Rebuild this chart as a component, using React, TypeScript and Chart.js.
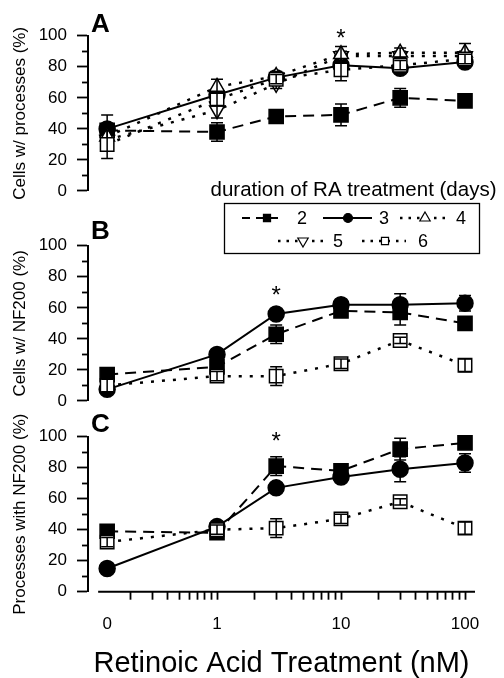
import React, { useEffect, useRef } from 'react';
import { Chart, registerables } from 'chart.js';

Chart.register(...registerables);

const W = 504;
const H = 678;
const FONT = '"Liberation Sans", Arial, Helvetica, sans-serif';

// ---------- data ----------
const DOSES = [0, 1, 3, 10, 30, 100]; // nM; dose 0 is drawn at ZERO_AT on the log axis
const ZERO_AT = 0.13;
const X_MIN = 0.0911;
const X_MAX = 120.4;
const X_LINE_START = 0.11;
const X_MAJOR = [ZERO_AT, 1, 10, 100];
const X_MAJOR_LABELS = ['0', '1', '10', '100'];
const X_MINOR = [0.2, 0.3, 0.4, 0.5, 0.6, 0.7, 0.8, 0.9, 2, 3, 4, 5, 6, 7, 8, 9, 20, 30, 40, 50, 60, 70, 80, 90];
const Y_MINOR = [10, 30, 50, 70, 90];

// Panel A: cells with processes (%)
const A_DAY2 = [39, 38, 48, 49, 60, 58];
const A_DAY2_ERR = [2, 6, 1, 7, 6, 1];
const A_DAY3 = [40, 62, 73, 81, 79, 83];
const A_DAY3_ERR = [9, 3, 3, 3, 3, 3];
const A_DAY4 = [35, 67, 74, 88, 89, 89];
const A_DAY4_ERR = [4, 5, 3, 5, 3, 6];
const A_DAY5 = [33, 52, 69, 87, 87, 87];
const A_DAY5_ERR = [4, 5, 3, 3, 3, 3];
const A_DAY6 = [30, 59, 72, 78, 81, 85];
const A_DAY6_ERR = [9, 4, 3, 7, 3, 3];

// Panel B: cells with NF200 (%)
const B_DAY2 = [17, 22, 43, 58, 57, 50];
const B_DAY2_ERR = [2, 2, 6, 2, 8, 4];
const B_DAY3 = [7.5, 30, 56, 62, 62, 63];
const B_DAY3_ERR = [1, 2, 2, 2, 7, 5];
const B_DAY6 = [10, 16, 16, 24, 39, 23];
const B_DAY6_ERR = [4, 3, 6, 3, 2, 4];

// Panel C: processes with NF200 (%)
const C_DAY2 = [39, 38, 81, 78, 92, 96];
const C_DAY2_ERR = [4, 3, 6, 3, 7, 2];
const C_DAY3 = [15, 42, 67, 74, 79, 83];
const C_DAY3_ERR = [1, 2, 3, 3, 8, 6];
const C_DAY6 = [32, 40, 41, 47, 58, 41];
const C_DAY6_ERR = [3, 3, 6, 3, 2, 4];

// significance markers (dose, value)
const A_STAR = [10, 101];
const B_STAR = [3, 71];
const C_STAR = [3, 100];

const LEGEND_TITLE = 'duration of RA treatment (days)';
const X_TITLE = 'Retinoic Acid Treatment (nM)';

// ---------- styles ----------
type St = { pointStyle: string; rotation: number; fill: string; dash: number[]; lw: number; radius: number; order: number; legendDash: number[]; legendR: number };
const STYLE: Record<string, St> = {
  '2': { pointStyle: 'rect', rotation: 0, fill: '#000', dash: [11, 7], lw: 2, radius: 10, order: 3, legendDash: [8, 6], legendR: 5 },
  '3': { pointStyle: 'circle', rotation: 0, fill: '#000', dash: [], lw: 2, radius: 8, order: 2, legendDash: [], legendR: 4.5 },
  '4': { pointStyle: 'triangle', rotation: 0, fill: '#fff', dash: [3, 8], lw: 2.5, radius: 8.5, order: 1, legendDash: [2.5, 6], legendR: 6 },
  '5': { pointStyle: 'triangle', rotation: 180, fill: '#fff', dash: [3, 8], lw: 2.5, radius: 8.5, order: 1, legendDash: [2.5, 6], legendR: 6 },
  '6': { pointStyle: 'rect', rotation: 0, fill: '#fff', dash: [3, 8], lw: 2.5, radius: 9.5, order: 0, legendDash: [2.5, 6], legendR: 5 },
};

const PLOT_LEFT = 88;
const PLOT_RIGHT = 475;

const LEGEND_LAYOUT = {
  titleX: 353.5, titleY: 190,
  box: [224, 203, 255, 50],
  items: [
    { day: '2', y: 218, x0: 242, x1: 280, mx: 267, lx: 302 },
    { day: '3', y: 218, x0: 323, x1: 372, mx: 348, lx: 384 },
    { day: '4', y: 218, x0: 400, x1: 448, mx: 425, lx: 461 },
    { day: '5', y: 241, x0: 278, x1: 326, mx: 303, lx: 338 },
    { day: '6', y: 241, x0: 362, x1: 406, mx: 385, lx: 423 },
  ],
};

type Series = { day: string; values: number[]; errors: number[] };
type Panel = {
  id: string; yTitle: string; top: number; bottom: number; showX: boolean; legend: boolean;
  letterDy: number; star: number[]; series: Series[];
};

const PANELS: Panel[] = [
  {
    id: 'A', yTitle: 'Cells w/ processes (%)', top: 35.7, bottom: 191, showX: false, legend: true, letterDy: -4, star: A_STAR,
    series: [
      { day: '2', values: A_DAY2, errors: A_DAY2_ERR },
      { day: '3', values: A_DAY3, errors: A_DAY3_ERR },
      { day: '4', values: A_DAY4, errors: A_DAY4_ERR },
      { day: '5', values: A_DAY5, errors: A_DAY5_ERR },
      { day: '6', values: A_DAY6, errors: A_DAY6_ERR },
    ],
  },
  {
    id: 'B', yTitle: 'Cells w/ NF200 (%)', top: 245.7, bottom: 401, showX: false, legend: false, letterDy: -7, star: B_STAR,
    series: [
      { day: '2', values: B_DAY2, errors: B_DAY2_ERR },
      { day: '3', values: B_DAY3, errors: B_DAY3_ERR },
      { day: '6', values: B_DAY6, errors: B_DAY6_ERR },
    ],
  },
  {
    id: 'C', yTitle: 'Processes with NF200 (%)', top: 436.7, bottom: 591.7, showX: true, legend: false, letterDy: -5, star: C_STAR,
    series: [
      { day: '2', values: C_DAY2, errors: C_DAY2_ERR },
      { day: '3', values: C_DAY3, errors: C_DAY3_ERR },
      { day: '6', values: C_DAY6, errors: C_DAY6_ERR },
    ],
  },
];

function drawMarker(ctx: CanvasRenderingContext2D, st: St, x: number, y: number, r: number) {
  ctx.save();
  ctx.setLineDash([]);
  ctx.lineWidth = 1.2;
  ctx.strokeStyle = '#000';
  ctx.fillStyle = st.fill;
  ctx.beginPath();
  if (st.pointStyle === 'circle') {
    ctx.arc(x, y, r, 0, Math.PI * 2);
  } else if (st.pointStyle === 'rect') {
    const s = r * Math.SQRT1_2;
    ctx.rect(x - s, y - s, 2 * s, 2 * s);
  } else {
    const dir = st.rotation === 180 ? -1 : 1;
    ctx.moveTo(x, y - dir * r);
    ctx.lineTo(x + r * 0.866, y + dir * r * 0.5);
    ctx.lineTo(x - r * 0.866, y + dir * r * 0.5);
    ctx.closePath();
  }
  ctx.fill();
  ctx.stroke();
  ctx.restore();
}

function makePlugin(p: Panel) {
  return {
    id: 'decor' + p.id,
    afterDatasetDraw(chart: any, args: any) {
      const ds = chart.data.datasets[args.index];
      const errs: number[] = ds.errors;
      if (!errs) return;
      const xs = chart.scales.x;
      const ys = chart.scales.y;
      const ctx: CanvasRenderingContext2D = chart.ctx;
      ctx.save();
      ctx.strokeStyle = '#000';
      ctx.lineWidth = 1.5;
      ctx.setLineDash([]);
      ds.data.forEach((pt: any, i: number) => {
        const e = errs[i];
        if (!e) return;
        const px = xs.getPixelForValue(pt.x);
        const t = ys.getPixelForValue(pt.y + e);
        const b = ys.getPixelForValue(pt.y - e);
        ctx.beginPath();
        ctx.moveTo(px, t); ctx.lineTo(px, b);
        ctx.moveTo(px - 6, t); ctx.lineTo(px + 6, t);
        ctx.moveTo(px - 6, b); ctx.lineTo(px + 6, b);
        ctx.stroke();
      });
      ctx.restore();
    },
    afterDraw(chart: any) {
      const ctx: CanvasRenderingContext2D = chart.ctx;
      const xs = chart.scales.x;
      const ys = chart.scales.y;
      const area = chart.chartArea;
      ctx.save();
      ctx.strokeStyle = '#000';
      ctx.fillStyle = '#000';
      ctx.setLineDash([]);
      // minor y ticks
      ctx.lineWidth = 1.8;
      Y_MINOR.forEach((v) => {
        const py = Math.round(ys.getPixelForValue(v)) + 0.5;
        ctx.beginPath();
        ctx.moveTo(area.left - 6, py);
        ctx.lineTo(area.left, py);
        ctx.stroke();
      });
      // x axis line (offset from the y axis)
      if (p.showX) {
        ctx.lineWidth = 2;
        ctx.beginPath();
        ctx.moveTo(xs.getPixelForValue(X_LINE_START), area.bottom);
        ctx.lineTo(area.right, area.bottom);
        ctx.stroke();
      }
      // panel letter
      ctx.font = `bold 26px ${FONT}`;
      ctx.textAlign = 'left';
      ctx.textBaseline = 'alphabetic';
      ctx.fillText(p.id, area.left + 3, area.top + p.letterDy);
      // asterisk
      ctx.font = `24px ${FONT}`;
      ctx.textAlign = 'center';
      ctx.textBaseline = 'middle';
      ctx.fillText('*', xs.getPixelForValue(p.star[0]), ys.getPixelForValue(p.star[1]) + 0.22 * 24);
      // legend
      if (p.legend) {
        const L = LEGEND_LAYOUT;
        ctx.font = `20.5px ${FONT}`;
        ctx.fillText(LEGEND_TITLE, L.titleX, L.titleY);
        ctx.lineWidth = 1.3;
        ctx.strokeRect(L.box[0] + 0.5, L.box[1] + 0.5, L.box[2], L.box[3]);
        ctx.font = `18px ${FONT}`;
        L.items.forEach((it) => {
          const st = STYLE[it.day];
          ctx.save();
          ctx.lineWidth = st.lw;
          ctx.setLineDash(st.legendDash);
          ctx.beginPath();
          ctx.moveTo(it.x0, it.y);
          ctx.lineTo(it.x1, it.y);
          ctx.stroke();
          ctx.restore();
          drawMarker(ctx, st, it.mx, it.y, st.legendR);
          ctx.fillStyle = '#000';
          ctx.textAlign = 'center';
          ctx.textBaseline = 'middle';
          ctx.fillText(it.day, it.lx, it.y + 1);
        });
      }
      ctx.restore();
    },
  };
}

function buildConfig(p: Panel): any {
  const datasets = p.series.map((s) => {
    const st = STYLE[s.day];
    return {
      label: s.day,
      data: DOSES.map((d, i) => ({ x: d === 0 ? ZERO_AT : d, y: s.values[i] })),
      errors: s.errors,
      borderColor: '#000',
      borderWidth: st.lw,
      borderDash: st.dash,
      pointStyle: st.pointStyle,
      pointRotation: st.rotation,
      pointRadius: st.radius,
      pointHoverRadius: st.radius,
      pointBackgroundColor: st.fill,
      pointBorderColor: '#000',
      pointBorderWidth: 1.5,
      fill: false,
      tension: 0,
      clip: false,
      order: st.order,
    };
  });

  return {
    type: 'line',
    data: { datasets },
    plugins: [makePlugin(p)],
    options: {
      responsive: false,
      animation: false,
      devicePixelRatio: 1,
      events: [],
      layout: {
        padding: { left: 0, right: W - PLOT_RIGHT, top: p.top, bottom: p.showX ? 0 : H - p.bottom },
      },
      plugins: { legend: { display: false }, tooltip: { enabled: false } },
      scales: {
        x: {
          type: 'logarithmic',
          display: p.showX,
          min: X_MIN,
          max: X_MAX,
          bounds: 'data',
          afterBuildTicks: (scale: any) => {
            const vals = [...X_MAJOR, ...X_MINOR].sort((a, b) => a - b);
            scale.ticks = vals.map((v) => ({ value: v }));
          },
          afterFit: (scale: any) => {
            scale.height = p.showX ? H - p.bottom : 0;
          },
          ticks: {
            autoSkip: false,
            maxRotation: 0,
            minRotation: 0,
            padding: 14,
            color: '#000',
            font: { family: FONT, size: 17 },
            callback: (v: any) => {
              const idx = X_MAJOR.indexOf(Number(v));
              return idx >= 0 ? X_MAJOR_LABELS[idx] : '';
            },
          },
          grid: {
            drawOnChartArea: false,
            drawTicks: true,
            tickLength: 8,
            tickWidth: 1.8,
            tickColor: (c: any) => (c.tick && c.tick.value === ZERO_AT ? 'rgba(0,0,0,0)' : '#000'),
          },
          border: { display: false },
          title: {
            display: true,
            text: X_TITLE,
            color: '#000',
            font: { family: FONT, size: 29 },
            padding: { top: 0, bottom: -3 },
          },
        },
        y: {
          type: 'linear',
          min: 0,
          max: 100,
          afterFit: (scale: any) => {
            scale.width = PLOT_LEFT;
          },
          ticks: {
            stepSize: 20,
            padding: 10,
            color: '#000',
            font: { family: FONT, size: 17 },
          },
          grid: {
            drawOnChartArea: false,
            drawTicks: true,
            tickLength: 11,
            tickWidth: 1.8,
            tickColor: '#000',
          },
          border: { display: true, color: '#000', width: 2 },
          title: {
            display: true,
            text: p.yTitle,
            color: '#000',
            font: { family: FONT, size: 17 },
            padding: { top: 10, bottom: 0 },
          },
        },
      },
    },
  };
}

function PanelCanvas({ panel }: { panel: Panel }) {
  const ref = useRef<HTMLCanvasElement>(null);
  useEffect(() => {
    const chart = new Chart(ref.current as HTMLCanvasElement, buildConfig(panel));
    return () => chart.destroy();
  }, [panel]);
  return (
    <canvas
      ref={ref}
      width={W}
      height={H}
      style={{ position: 'absolute', left: 0, top: 0, width: W, height: H }}
    />
  );
}

export default function App() {
  return (
    <div style={{ position: 'fixed', left: 0, top: 0, width: W, height: H, background: '#fff' }}>
      {PANELS.map((p) => (
        <PanelCanvas key={p.id} panel={p} />
      ))}
    </div>
  );
}
